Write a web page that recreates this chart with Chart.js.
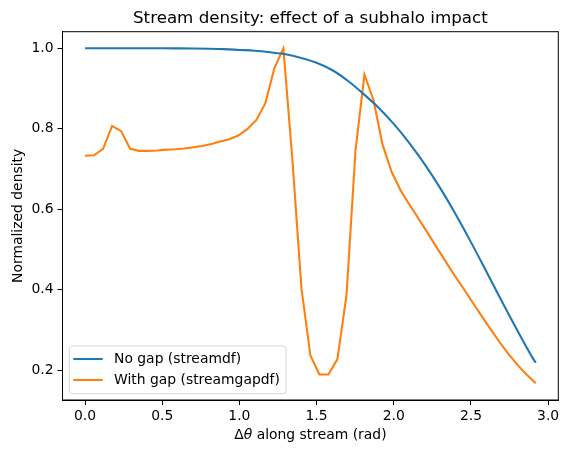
<!DOCTYPE html>
<html>
<head>
<meta charset="utf-8">
<script src="https://cdn.jsdelivr.net/npm/chart.js@4"></script>
<style>
  html, body { margin: 0; padding: 0; background: #fff; }
  #wrap { width: 569px; height: 454px; }
</style>
</head>
<body>
<div id="wrap"><canvas id="c" width="569" height="454"></canvas></div>
<script>
// ---- data ----
const noGapX = [0, 0.1, 0.2, 0.3, 0.4, 0.5, 0.6, 0.7, 0.8, 0.9, 1.0, 1.1, 1.2, 1.3, 1.4, 1.5, 1.6, 1.7, 1.8, 1.9, 2.0, 2.1, 2.2, 2.3, 2.4, 2.5, 2.6, 2.7, 2.8, 2.9, 2.92];
const noGapY = [1.0, 1.0, 1.0, 1.0, 1.0, 1.0, 0.9998, 0.9995, 0.999, 0.998, 0.996, 0.994, 0.990, 0.985, 0.976, 0.964, 0.946, 0.920, 0.888, 0.853, 0.812, 0.765, 0.712, 0.653, 0.588, 0.518, 0.445, 0.371, 0.299, 0.230, 0.218];

const gapX = [0, 0.058, 0.117, 0.175, 0.234, 0.292, 0.350, 0.409, 0.467, 0.526, 0.584, 0.642, 0.701, 0.759, 0.818, 0.876, 0.934, 0.993, 1.051, 1.110, 1.168, 1.226, 1.285, 1.343, 1.402, 1.460, 1.518, 1.577, 1.635, 1.694, 1.752, 1.810, 1.869, 1.927, 1.986, 2.044, 2.102, 2.161, 2.219, 2.278, 2.336, 2.394, 2.453, 2.511, 2.570, 2.628, 2.686, 2.745, 2.803, 2.862, 2.920];
const gapY = [0.733, 0.734, 0.750, 0.807, 0.794, 0.750, 0.745, 0.745, 0.746, 0.748, 0.749, 0.751, 0.754, 0.757, 0.762, 0.768, 0.774, 0.783, 0.799, 0.822, 0.863, 0.950, 1.000, 0.725, 0.403, 0.236, 0.189, 0.189, 0.227, 0.386, 0.745, 0.935, 0.871, 0.761, 0.693, 0.647, 0.611, 0.576, 0.541, 0.505, 0.470, 0.435, 0.402, 0.368, 0.334, 0.301, 0.269, 0.239, 0.212, 0.188, 0.167];

const xTicks = [0.0, 0.5, 1.0, 1.5, 2.0, 2.5, 3.0];
const yTicks = [0.2, 0.4, 0.6, 0.8, 1.0];

const seriesNames = ['No gap (streamdf)', 'With gap (streamgapdf)'];
const titleText = 'Stream density: effect of a subhalo impact';
const yLabel = 'Normalized density';

// ---- styling ----
const FONT = '"DejaVu Sans", sans-serif';
const BLUE = '#1f77b4', ORANGE = '#ff7f0e';
const AREA = { left: 62.5, right: 558.3, top: 31.7, bottom: 400 };

const toPts = (xs, ys) => xs.map((x, i) => ({ x: x, y: ys[i] }));

const decor = {
  id: 'decor',
  afterDraw(chart) {
    const ctx = chart.ctx;
    const a = chart.chartArea;
    ctx.save();
    // frame
    ctx.strokeStyle = '#000';
    ctx.lineWidth = 1;
    ctx.strokeRect(a.left, a.top, a.right - a.left, a.bottom - a.top);

    // title
    ctx.fillStyle = '#000';
    ctx.textAlign = 'center';
    ctx.textBaseline = 'alphabetic';
    ctx.font = '16.7px ' + FONT;
    ctx.fillText(titleText, (a.left + a.right) / 2, a.top - 8.3);

    // x label: Δθ along stream (rad)
    ctx.font = '13.9px ' + FONT;
    const p1 = 'Δ', p3 = ' along stream (rad)';
    const w1 = ctx.measureText(p1).width;
    const w3 = ctx.measureText(p3).width;
    ctx.font = 'italic 13.9px ' + FONT;
    const p2 = 'θ';
    const w2 = ctx.measureText(p2).width;
    const total = w1 + w2 + w3;
    let sx = (a.left + a.right) / 2 - total / 2;
    const by = 439;
    ctx.textAlign = 'left';
    ctx.font = '13.9px ' + FONT;
    ctx.fillText(p1, sx, by);
    ctx.font = 'italic 13.9px ' + FONT;
    ctx.fillText(p2, sx + w1, by);
    ctx.font = '13.9px ' + FONT;
    ctx.fillText(p3, sx + w1 + w2, by);

    // y label
    ctx.save();
    ctx.translate(22, (a.top + a.bottom) / 2);
    ctx.rotate(-Math.PI / 2);
    ctx.textAlign = 'center';
    ctx.textBaseline = 'alphabetic';
    ctx.font = '13.9px ' + FONT;
    ctx.fillText(yLabel, 0, 0);
    ctx.restore();

    // legend
    const lx = 69.3, ly = 346, lw = 216.7, lh = 47.7, r = 3;
    ctx.beginPath();
    ctx.moveTo(lx + r, ly);
    ctx.lineTo(lx + lw - r, ly);
    ctx.arcTo(lx + lw, ly, lx + lw, ly + r, r);
    ctx.lineTo(lx + lw, ly + lh - r);
    ctx.arcTo(lx + lw, ly + lh, lx + lw - r, ly + lh, r);
    ctx.lineTo(lx + r, ly + lh);
    ctx.arcTo(lx, ly + lh, lx, ly + lh - r, r);
    ctx.lineTo(lx, ly + r);
    ctx.arcTo(lx, ly, lx + r, ly, r);
    ctx.closePath();
    ctx.fillStyle = 'rgba(255,255,255,0.8)';
    ctx.fill();
    ctx.strokeStyle = 'rgba(204,204,204,0.8)';
    ctx.lineWidth = 1;
    ctx.stroke();

    const rows = [359, 380];
    const cols = [BLUE, ORANGE];
    ctx.font = '13.9px ' + FONT;
    ctx.textAlign = 'left';
    ctx.textBaseline = 'middle';
    rows.forEach((yy, i) => {
      ctx.strokeStyle = cols[i];
      ctx.lineWidth = 2.08;
      ctx.beginPath();
      ctx.moveTo(73.3, yy);
      ctx.lineTo(102.7, yy);
      ctx.stroke();
      ctx.fillStyle = '#000';
      ctx.fillText(seriesNames[i], 114, yy);
    });
    ctx.restore();
  }
};

new Chart(document.getElementById('c'), {
  type: 'line',
  data: {
    datasets: [
      {
        label: seriesNames[0],
        data: toPts(noGapX, noGapY),
        borderColor: BLUE,
        borderWidth: 2.08,
        pointRadius: 0,
        fill: false,
        cubicInterpolationMode: 'monotone'
      },
      {
        label: seriesNames[1],
        data: toPts(gapX, gapY),
        borderColor: ORANGE,
        borderWidth: 2.08,
        pointRadius: 0,
        fill: false,
        tension: 0
      }
    ]
  },
  options: {
    responsive: false,
    animation: false,
    devicePixelRatio: 1,
    layout: { padding: { top: AREA.top, right: 569 - AREA.right, left: 0, bottom: 0 } },
    plugins: {
      legend: { display: false },
      title: { display: false },
      tooltip: { enabled: false }
    },
    scales: {
      x: {
        type: 'linear',
        min: -0.146,
        max: 3.066,
        afterBuildTicks: s => { s.ticks = xTicks.map(v => ({ value: v })); },
        afterFit: s => { s.height = 454 - AREA.bottom; },
        ticks: {
          callback: v => Number(v).toFixed(1),
          color: '#000',
          font: { family: FONT, size: 13.9 },
          padding: 3,
          maxRotation: 0,
          autoSkip: false
        },
        grid: { drawOnChartArea: false, drawTicks: true, tickLength: 5, tickColor: '#000', tickWidth: 1 },
        border: { display: true, color: '#000', width: 1 }
      },
      y: {
        type: 'linear',
        min: 0.1254,
        max: 1.0413,
        afterBuildTicks: s => { s.ticks = yTicks.map(v => ({ value: v })); },
        afterFit: s => { s.width = AREA.left; },
        ticks: {
          callback: v => Number(v).toFixed(1),
          color: '#000',
          font: { family: FONT, size: 13.9 },
          padding: 4,
          autoSkip: false
        },
        grid: { drawOnChartArea: false, drawTicks: true, tickLength: 5, tickColor: '#000', tickWidth: 1 },
        border: { display: true, color: '#000', width: 1 }
      }
    }
  },
  plugins: [decor]
});
</script>
</body>
</html>
